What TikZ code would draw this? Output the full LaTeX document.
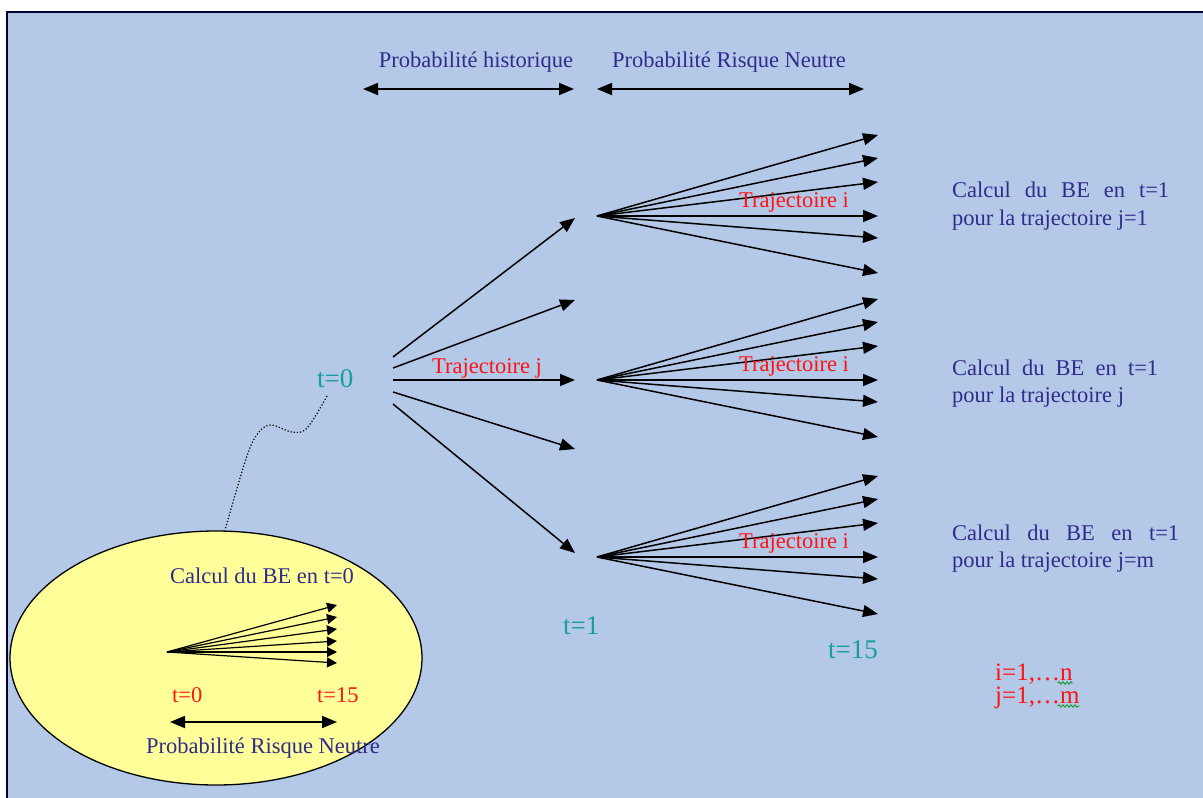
\documentclass[tikz,border=0pt]{standalone}
\usepackage{fontspec}
\setmainfont{Liberation Serif}
\usetikzlibrary{arrows.meta,shapes.geometric,decorations.pathmorphing}
\definecolor{bgblue}{RGB}{180,200,231}
\definecolor{ellyellow}{RGB}{255,255,153}
\definecolor{navytext}{RGB}{48,44,140}
\definecolor{tealtext}{RGB}{22,158,160}
\definecolor{redtext}{RGB}{255,20,20}
\definecolor{spellgreen}{RGB}{20,150,40}
\begin{document}
\begin{tikzpicture}[x=1pt,y=-1pt,
  lbl/.style={inner sep=0pt, font=\fontsize{22.5}{27}\selectfont},
  bluelbl/.style={lbl, text=navytext},
  teallbl/.style={inner sep=0pt, text=tealtext, font=\fontsize{27}{32}\selectfont},
  redlbl/.style={lbl, text=redtext},
  rangelbl/.style={inner sep=0pt, text=redtext, font=\fontsize{25}{30}\selectfont},
  fanarrow/.style={line width=1.5pt, -{Triangle[length=15pt,width=12pt]}},
  spanarrow/.style={line width=1.8pt, {Triangle[length=15pt,width=12pt]}-{Triangle[length=15pt,width=12pt]}},
  minifan/.style={line width=1.2pt, -{Triangle[length=10pt,width=10pt]}},
  spell/.style={spellgreen, line width=0.9pt, decorate, decoration={snake, amplitude=1.2pt, segment length=4pt}},
]
\useasboundingbox (0,0) rectangle (1203,798);
% page and framed background
\fill[white] (0,0) rectangle (1203,798);
\filldraw[fill=bgblue, draw=black!80!blue, line width=1.5pt] (7,12) rectangle (1220,815);

% probability measures over the two periods
\node[bluelbl, anchor=base] (histlbl) at (476,67) {Probabilité historique};
\coordinate (histL) at (363,89);
\coordinate (histR) at (574,89);
\draw[spanarrow] (histL) -- (histR);
\node[bluelbl, anchor=base] (rnlbl) at (729,67) {Probabilité Risque Neutre};
\coordinate (rnL) at (597,89);
\coordinate (rnR) at (864,89);
\draw[spanarrow] (rnL) -- (rnR);

% first period: trajectories j from t=0 to t=1
\node[teallbl, anchor=base west] (t0) at (317,387) {t=0};
\foreach \k/\ys/\ye in {1/357/218, 2/368/300, 3/380/380, 4/392/449, 5/404/553} {
  \coordinate (js\k) at (393,\ys);
  \coordinate (je\k) at (575,\ye);
  \draw[fanarrow] (js\k) -- (je\k);
}
\node[redlbl, anchor=base west] (trajj) at (432,373) {Trajectoire j};
\node[teallbl, anchor=base west] (t1) at (563,634) {t=1};

% second period: trajectories i from t=1 to t=15
\foreach \f/\oy in {a/216, b/380, c/557} {
  \coordinate (o\f) at (597,\oy);
  \foreach \k/\dy in {1/-81, 2/-58, 3/-34, 4/0, 5/22, 6/57} {
    \coordinate (e\f\k) at (878,\oy+\dy);
    \draw[fanarrow] (o\f) -- (e\f\k);
  }
  \node[redlbl, anchor=base west] (traji\f) at (739,\oy-9) {Trajectoire i};
}
\node[teallbl, anchor=base west] (t15) at (828,658) {t=15};

% best estimate per trajectory
\node[bluelbl, anchor=base west] (be1a) at (952,197) {\makebox[217pt][s]{Calcul du BE en t=1}};
\node[bluelbl, anchor=base west] (be1b) at (952,225) {pour la trajectoire j=1};
\node[bluelbl, anchor=base west] (be2a) at (952,375) {\makebox[206pt][s]{Calcul du BE en t=1}};
\node[bluelbl, anchor=base west] (be2b) at (952,402) {pour la trajectoire j};
\node[bluelbl, anchor=base west] (be3a) at (952,540) {\makebox[227pt][s]{Calcul du BE en t=1}};
\node[bluelbl, anchor=base west] (be3b) at (952,567) {pour la trajectoire j=m};

% index ranges
\node[rangelbl, anchor=base west] (irange) at (995,680) {i=1,…n};
\node[rangelbl, anchor=base west] (jrange) at (995,703) {j=1,…m};
\draw[spell] ([xshift=-15pt,yshift=-3pt]irange.base east) -- ([yshift=-3pt]irange.base east);
\draw[spell] ([xshift=-22pt,yshift=-3pt]jrange.base east) -- ([yshift=-3pt]jrange.base east);

% best estimate at t=0
\node[ellipse, draw, fill=ellyellow, line width=1.3pt, inner sep=0pt,
      minimum width=412pt, minimum height=254pt] (bubble) at (216,658) {};
\coordinate (linkA) at (327,396);
\coordinate (linkB) at (225,530);
\draw[dotted, line width=1.2pt] plot[smooth, tension=0.6] coordinates
  {(linkA) (307,428) (292,432) (270,425) (256,436) (245,462) (linkB)};
\node[bluelbl, anchor=base] (be0) at (262,583) {Calcul du BE en t=0};
\coordinate (mo) at (167,652);
\foreach \k/\y in {1/605, 2/617, 3/629, 4/641, 5/652, 6/663} {
  \coordinate (me\k) at (337,\y);
  \draw[minifan] (mo) -- (me\k);
}
\node[redlbl, anchor=base west] (mt0) at (172,702) {t=0};
\node[redlbl, anchor=base west] (mt15) at (317,702) {t=15};
\coordinate (mL) at (170,722);
\coordinate (mR) at (337,722);
\draw[spanarrow] (mL) -- (mR);
\node[bluelbl, anchor=base] (mrn) at (263,753) {Probabilité Risque Neutre};
\end{tikzpicture}
\end{document}
